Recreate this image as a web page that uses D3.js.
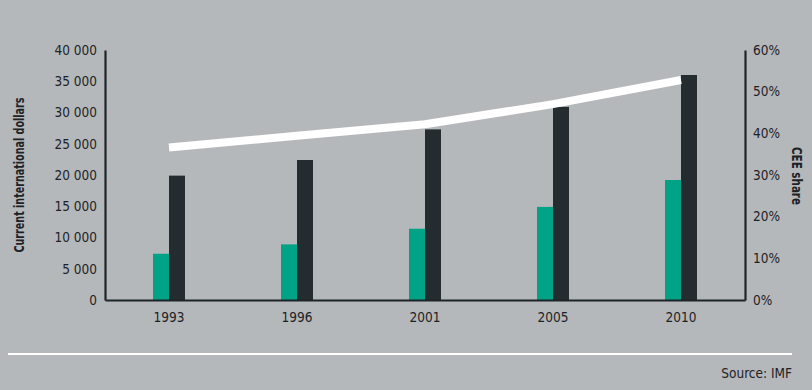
<!DOCTYPE html>
<html>
<head>
<script type="text/javascript" src="https://cdn.jsdelivr.net/npm/d3@7"></script>
<title>CEE vs EU income</title>
<style>
  body { margin:0; background:#b5b8bb; }
  svg text { font-family:"DejaVu Sans Condensed","Open Sans",sans-serif; fill:#1d2225; }
</style>
</head>
<body>
<div id="chart"></div>

<script type="text/javascript">
(function(){

  // values
  var years     = ["1993", "1996", "2001", "2005", "2010"];
  var ceeValues = [7400, 8900, 11400, 14900, 19200];     // teal bars
  var euValues  = [19900, 22400, 27300, 30900, 36000];   // dark bars
  var ceeShare  = [0.366, 0.394, 0.422, 0.470, 0.528];  // white line, right axis
  var leftTicks  = [0, 5000, 10000, 15000, 20000, 25000, 30000, 35000, 40000];
  var rightTicks = [0, 0.1, 0.2, 0.3, 0.4, 0.5, 0.6];

  var w = 812, h = 390;
  var left = 105, right = 745, top = 50, bottom = 300;
  var barW = 16;

  var svg = d3.select("#chart").append("svg")
      .attr("width", w)
      .attr("height", h);

  svg.append("rect")
     .attr("width", w).attr("height", h)
     .attr("fill", "#b5b8bb");

  var x = d3.scaleBand().domain(years).range([left, right]);
  var y = d3.scaleLinear().domain([0, 40000]).range([bottom, top]);
  var y2 = d3.scaleLinear().domain([0, 0.6]).range([bottom, top]);

  var spaced = function(d) { return d3.format(",")(d).replace(/,/g, " "); };

  // bars
  var groups = svg.selectAll("g.year")
      .data(years)
      .enter().append("g")
      .attr("class", "year")
      .attr("transform", function(d) { return "translate(" + (x(d) + x.bandwidth()/2) + ",0)"; });

  groups.append("rect")
      .attr("x", -barW)
      .attr("y", function(d, i) { return y(ceeValues[i]); })
      .attr("width", barW)
      .attr("height", function(d, i) { return bottom - y(ceeValues[i]); })
      .attr("fill", "#00a386");

  groups.append("rect")
      .attr("x", 0)
      .attr("y", function(d, i) { return y(euValues[i]); })
      .attr("width", barW)
      .attr("height", function(d, i) { return bottom - y(euValues[i]); })
      .attr("fill", "#252c2f");

  // share line
  var line = d3.line()
      .x(function(d, i) { return x(years[i]) + x.bandwidth()/2; })
      .y(function(d) { return y2(d); });

  svg.append("path")
     .datum(ceeShare)
     .attr("d", line)
     .attr("fill", "none")
     .attr("stroke", "#ffffff")
     .attr("stroke-width", 8);

  // axes
  var axisStyle = function(g) {
    g.select(".domain").attr("stroke", "#1d2427").attr("stroke-width", 2.2);
    g.selectAll("text").attr("font-size", 13.5).attr("fill", "#1d2225")
      .style("font-family", "'DejaVu Sans Condensed','Open Sans',sans-serif");
  };

  svg.append("g")
     .attr("transform", "translate(" + left + ",0)")
     .call(d3.axisLeft(y).tickValues(leftTicks).tickFormat(spaced).tickSize(0).tickSizeOuter(0).tickPadding(8))
     .call(axisStyle);

  svg.append("g")
     .attr("transform", "translate(" + right + ",0)")
     .call(d3.axisRight(y2).tickValues(rightTicks).tickFormat(d3.format(".0%")).tickSize(0).tickSizeOuter(0).tickPadding(8))
     .call(axisStyle);

  svg.append("g")
     .attr("transform", "translate(0," + bottom + ")")
     .call(d3.axisBottom(x).tickSize(0).tickSizeOuter(0).tickPadding(12))
     .call(axisStyle);

  // axis titles, squeezed to the narrow face of the original
  svg.append("text")
     .attr("transform", "translate(24,175) rotate(-90)")
     .attr("text-anchor", "middle")
     .attr("font-size", 13.5)
     .attr("font-weight", "bold")
     .attr("textLength", 155)
     .attr("lengthAdjust", "spacingAndGlyphs")
     .text("Current international dollars");

  svg.append("text")
     .attr("transform", "translate(792,176) rotate(90)")
     .attr("text-anchor", "middle")
     .attr("font-size", 13.5)
     .attr("font-weight", "bold")
     .attr("textLength", 58)
     .attr("lengthAdjust", "spacingAndGlyphs")
     .text("CEE share");

  // footer
  svg.append("line")
     .attr("x1", 8).attr("x2", 792)
     .attr("y1", 354).attr("y2", 354)
     .attr("stroke", "#ffffff")
     .attr("stroke-width", 2);

  svg.append("text")
     .attr("x", 792).attr("y", 378)
     .attr("text-anchor", "end")
     .attr("font-size", 13.5)
     .text("Source: IMF");

})();
</script>
</body>
</html>
